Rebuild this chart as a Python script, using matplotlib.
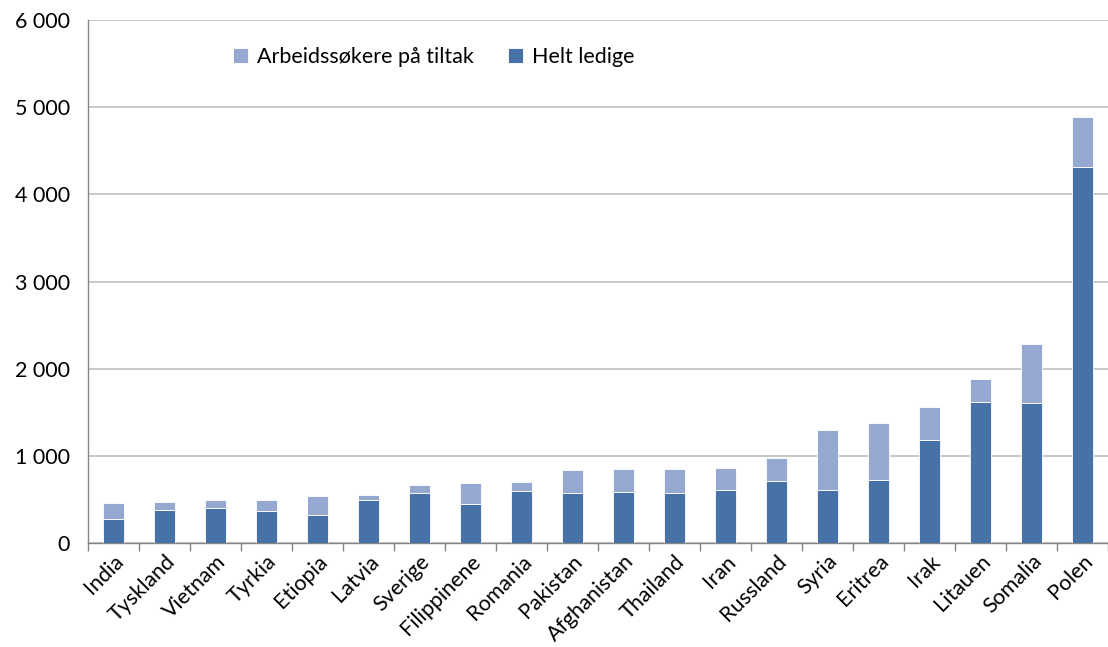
import matplotlib.pyplot as plt
import numpy as np

# Data
countries = ["India", "Tyskland", "Vietnam", "Tyrkia", "Etiopia", "Latvia", "Sverige",
             "Filippinene", "Romania", "Pakistan", "Afghanistan", "Thailand", "Iran",
             "Russland", "Syria", "Eritrea", "Irak", "Litauen", "Somalia", "Polen"]
helt_ledige = [272, 373, 400, 365, 319, 488, 569, 442, 596, 569, 580, 577, 603,
               707, 603, 719, 1180, 1618, 1607, 4317]
totalt = [457, 465, 492, 492, 543, 550, 670, 693, 696, 838, 845, 853, 861,
          972, 1292, 1381, 1557, 1884, 2284, 4882]
tiltak = [t - h for t, h in zip(totalt, helt_ledige)]

dark = "#4672a8"
light = "#95a9d0"
grid_c = "#bfbfbf"
fs = 15.5

plt.rcParams['font.family'] = ['Lato', 'DejaVu Sans']

fig = plt.figure(figsize=(11.08, 6.47), dpi=100)
ax = fig.add_axes([88 / 1108, 1 - 543 / 647, 1020 / 1108, 523 / 647])

x = np.arange(len(countries))
ax.bar(x, helt_ledige, width=0.4, color=dark, edgecolor="white", linewidth=0.6,
       label="Helt ledige", zorder=3)
ax.bar(x, tiltak, bottom=helt_ledige, width=0.4, color=light, edgecolor="white",
       linewidth=0.6, label="Arbeidssøkere på tiltak", zorder=3)

ax.set_xlim(-0.5, len(countries) - 0.5)
ax.set_ylim(0, 6000)
yt = np.arange(0, 6001, 1000)
ax.set_yticks(yt)
ax.set_yticklabels([f"{v:,}".replace(",", " ") for v in yt], fontsize=fs)
ax.yaxis.grid(True, color=grid_c, linewidth=1.2, zorder=0)
ax.tick_params(axis="y", length=0, pad=13)

ax.set_xticks(x)
ax.set_xticklabels(countries, rotation=45, ha="right", rotation_mode="anchor", fontsize=fs)
ax.tick_params(axis="x", length=0, pad=6)
ax.set_xticks(np.arange(-0.5, len(countries), 1), minor=True)
ax.tick_params(axis="x", which="minor", length=6, color="#868686", width=1)

for s in ["top", "right"]:
    ax.spines[s].set_visible(False)
for s in ["left", "bottom"]:
    ax.spines[s].set_color("#868686")
    ax.spines[s].set_linewidth(1)

h, l = ax.get_legend_handles_labels()
ax.legend(h[::-1], l[::-1], loc="upper left", bbox_to_anchor=(0.123, 0.985), ncol=2,
          frameon=False, fontsize=fs, handlelength=0.7, handleheight=0.7,
          columnspacing=1.6, handletextpad=0.4)

fig.savefig("out.png", dpi=100)
